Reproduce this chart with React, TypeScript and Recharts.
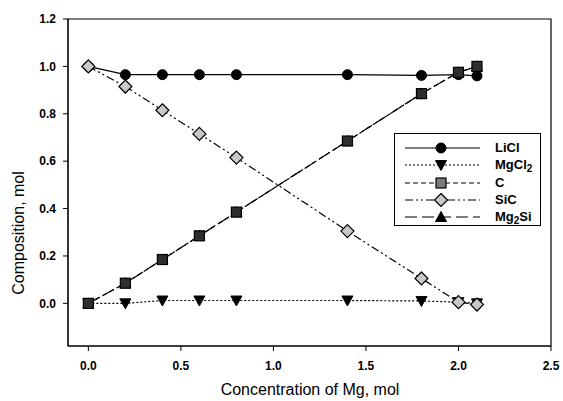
import React from 'react';
import { LineChart, Line, XAxis, YAxis, ReferenceArea, Legend } from 'recharts';

const xValues = [0, 0.2, 0.4, 0.6, 0.8, 1.4, 1.8, 2.0, 2.1];
const liclValues = [1.0, 0.965, 0.965, 0.965, 0.965, 0.965, 0.962, 0.965, 0.96];
const mgcl2Values = [0, 0, 0.012, 0.012, 0.012, 0.012, 0.01, 0.005, 0.0];
const cValues = [0, 0.085, 0.185, 0.285, 0.385, 0.685, 0.885, 0.975, 1.0];
const sicValues = [1.0, 0.915, 0.815, 0.715, 0.615, 0.305, 0.105, 0.005, -0.005];
const mg2siValues = [0, 0.085, 0.185, 0.285, 0.385, 0.685, 0.885, 0.975, 1.0];

const xTicks = [0, 0.5, 1.0, 1.5, 2.0, 2.5];
const yTicks = [0, 0.2, 0.4, 0.6, 0.8, 1.0, 1.2];
const xDomain: [number, number] = [-0.11, 2.5];
const yDomain: [number, number] = [-0.18, 1.2];

const data = xValues.map((x, i) => ({
  x,
  licl: liclValues[i],
  mgcl2: mgcl2Values[i],
  c: cValues[i],
  sic: sicValues[i],
  mg2si: mg2siValues[i],
}));

type Kind = 'circle' | 'down' | 'square' | 'diamond' | 'up';

const Marker = ({ kind, cx, cy, squareFill = '#2e2e2e' }: { kind: Kind; cx: number; cy: number; squareFill?: string }) => {
  switch (kind) {
    case 'circle':
      return <circle cx={cx} cy={cy} r={5} fill="#000" stroke="#000" strokeWidth={1} />;
    case 'down':
      return (
        <path
          d={`M${cx - 5.5},${cy - 4.5} L${cx + 5.5},${cy - 4.5} L${cx},${cy + 5.5} Z`}
          fill="#000"
          stroke="#000"
          strokeWidth={1}
        />
      );
    case 'up':
      return (
        <path
          d={`M${cx - 5.5},${cy + 4.5} L${cx + 5.5},${cy + 4.5} L${cx},${cy - 5.5} Z`}
          fill="#000"
          stroke="#000"
          strokeWidth={1}
        />
      );
    case 'square':
      return <rect x={cx - 5} y={cy - 5} width={10} height={10} fill={squareFill} stroke="#000" strokeWidth={1.2} />;
    case 'diamond':
      return (
        <path
          d={`M${cx},${cy - 6.5} L${cx + 6.5},${cy} L${cx},${cy + 6.5} L${cx - 6.5},${cy} Z`}
          fill="#c8c8c8"
          stroke="#000"
          strokeWidth={1.2}
        />
      );
  }
  return null;
};

const makeDot = (kind: Kind) => (props: any) => {
  const { cx, cy, index } = props;
  if (cx == null || cy == null) return <g key={`d-${kind}-${index}`} />;
  return (
    <g key={`d-${kind}-${index}`}>
      <Marker kind={kind} cx={cx} cy={cy} />
    </g>
  );
};

const series = [
  { key: 'licl', label: 'LiCl', sub: '', kind: 'circle' as Kind, dash: undefined as string | undefined },
  { key: 'mgcl2', label: 'MgCl', sub: '2', kind: 'down' as Kind, dash: '2 2' },
  { key: 'c', label: 'C', sub: '', kind: 'square' as Kind, dash: '5 3' },
  { key: 'sic', label: 'SiC', sub: '', kind: 'diamond' as Kind, dash: '8 3 2 3 2 3' },
  { key: 'mg2si', label: 'Mg', sub: '2', kind: 'up' as Kind, dash: '12 5', tail: 'Si' },
];

const LegendBox = () => (
  <div
    style={{
      position: 'relative',
      width: 147,
      height: 93,
      border: '1px solid #000',
      boxSizing: 'border-box',
      background: '#fff',
    }}
  >
    {series.map((s: any, i) => {
      const cy = 14 + i * 17.3;
      return (
        <div key={s.key} style={{ position: 'absolute', left: 0, top: cy - 8, width: 147, height: 16 }}>
          <svg width={95} height={16} style={{ position: 'absolute', left: 0, top: 0 }}>
            <line x1={10} y1={8} x2={85} y2={8} stroke="#000" strokeWidth={1.2} strokeDasharray={s.dash} />
            <Marker kind={s.kind} cx={46} cy={8} squareFill="#7a7a7a" />
          </svg>
          <div
            style={{
              position: 'absolute',
              left: 100,
              top: 0,
              fontSize: 13,
              fontWeight: 'bold',
              lineHeight: '15px',
              color: '#000',
              whiteSpace: 'nowrap',
            }}
          >
            {s.label}
            {s.sub ? <sub style={{ fontSize: 10, verticalAlign: '-3px' }}>{s.sub}</sub> : null}
            {s.tail || ''}
          </div>
        </div>
      );
    })}
  </div>
);

export default function App() {
  return (
    <div
      style={{
        position: 'absolute',
        left: 0,
        top: 0,
        width: 563,
        height: 401,
        background: '#fff',
        fontFamily: '"Liberation Sans", Arial, sans-serif',
      }}
    >
      <LineChart width={563} height={401} data={data} margin={{ top: 19, right: 12, bottom: 0, left: 0 }}>
        <XAxis
          dataKey="x"
          type="number"
          domain={xDomain}
          ticks={xTicks}
          allowDataOverflow
          tickFormatter={(v: number) => v.toFixed(1)}
          height={55}
          stroke="#000"
          tickSize={5}
          tickMargin={10}
          tick={{ fill: '#000', fontSize: 12, fontWeight: 'bold' }}
          label={{
            content: () => (
              <text x={310} y={395} textAnchor="middle" fontSize={16} fill="#000">
                Concentration of Mg, mol
              </text>
            ),
          }}
        />
        <YAxis
          type="number"
          domain={yDomain}
          ticks={yTicks}
          allowDataOverflow
          tickFormatter={(v: number) => v.toFixed(1)}
          width={68}
          stroke="#000"
          tickSize={5}
          tickMargin={7}
          tick={{ fill: '#000', fontSize: 12, fontWeight: 'bold' }}
          label={{
            content: () => (
              <text x={24} y={233} transform="rotate(-90, 24, 233)" textAnchor="middle" fontSize={16} fill="#000">
                Composition, mol
              </text>
            ),
          }}
        />
        <ReferenceArea
          x1={xDomain[0]}
          x2={xDomain[1]}
          y1={yDomain[0]}
          y2={yDomain[1]}
          fill="none"
          fillOpacity={0}
          stroke="#000"
          strokeWidth={1.2}
        />
        <Legend
          layout="vertical"
          align="center"
          verticalAlign="middle"
          content={() => <LegendBox />}
          wrapperStyle={{ position: 'absolute', left: 394, top: 133, width: 147, height: 93, bottom: 'auto', right: 'auto' }}
        />
        <Line
          dataKey="licl"
          type="linear"
          stroke="#000"
          strokeWidth={1.2}
          dot={makeDot('circle')}
          activeDot={false}
          isAnimationActive={false}
        />
        <Line
          dataKey="mgcl2"
          type="linear"
          stroke="#000"
          strokeWidth={1.2}
          strokeDasharray="2 2"
          dot={makeDot('down')}
          activeDot={false}
          isAnimationActive={false}
        />
        <Line
          dataKey="mg2si"
          type="linear"
          stroke="#000"
          strokeWidth={1.2}
          strokeDasharray="12 5"
          dot={makeDot('up')}
          activeDot={false}
          isAnimationActive={false}
        />
        <Line
          dataKey="c"
          type="linear"
          stroke="#000"
          strokeWidth={1.2}
          strokeDasharray="5 3"
          dot={makeDot('square')}
          activeDot={false}
          isAnimationActive={false}
        />
        <Line
          dataKey="sic"
          type="linear"
          stroke="#000"
          strokeWidth={1.2}
          strokeDasharray="8 3 2 3 2 3"
          dot={makeDot('diamond')}
          activeDot={false}
          isAnimationActive={false}
        />
      </LineChart>
    </div>
  );
}
